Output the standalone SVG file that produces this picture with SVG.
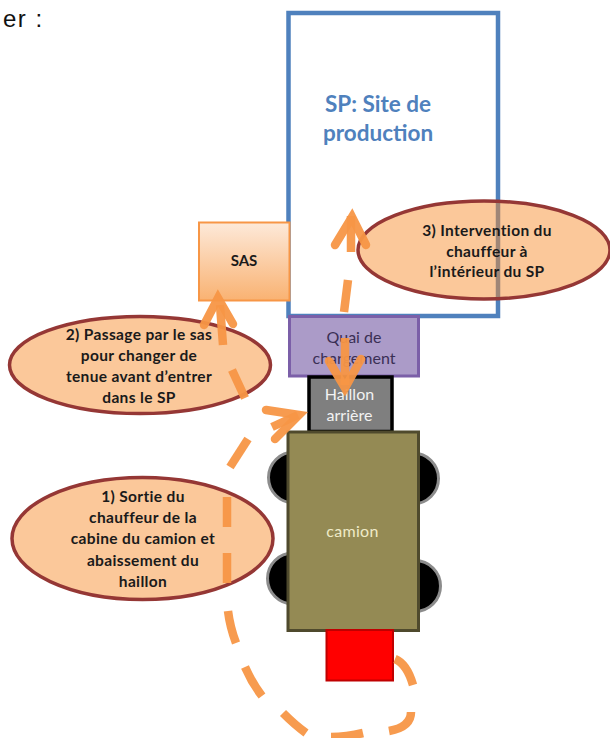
<svg xmlns="http://www.w3.org/2000/svg" width="610" height="738" viewBox="0 0 610 738">
<style>
text{font-family:Lato,"Liberation Sans",sans-serif;text-anchor:middle}
.e{fill:#f78c2c;fill-opacity:.48;stroke:#953735;stroke-width:3.5}
.et{font-size:15.5px;font-weight:700;fill:#1a1a1a;letter-spacing:.35px}
.w{fill:#000;stroke:#8c8c8c;stroke-width:3}
.c{fill:none;stroke:#f79646;stroke-width:8.500;stroke-opacity:.95}
.h{stroke-linecap:round;stroke-linejoin:miter}
.l{font-size:16px}
.sp{font-size:22.500px;font-weight:700;fill:#4f81bd}
</style>
<defs>
<linearGradient id="g" x1="0" y1="0" x2="0" y2="1"><stop offset="0" stop-color="#fde9d9"/><stop offset="1" stop-color="#f9b272"/></linearGradient>
</defs>
<rect width="610" height="738" fill="#fff"/>
<text x="3" y="27" style="font-family:'Liberation Sans',sans-serif;font-size:24px;text-anchor:start;letter-spacing:1.500px" fill="#111">er :</text>
<g id="sp"><rect x="288.500" y="13" width="209.500" height="303" fill="#fff" stroke="#4f81bd" stroke-width="4.500"/>
<text class="sp" x="378" y="112">SP: Site de</text><text class="sp" x="378" y="141">production</text></g>
<g id="sas"><rect x="199" y="222.500" width="90.500" height="78" fill="url(#g)" stroke="#f79646" stroke-width="2"/><text x="244" y="266" font-size="15" font-weight="700" fill="#1a1a1a">SAS</text></g>
<g id="roues"><circle class="w" cx="294" cy="477.500" r="25.500"/><circle class="w" cx="293" cy="578.500" r="25.500"/><circle class="w" cx="413" cy="478.500" r="25.500"/><circle class="w" cx="415" cy="586" r="25.500"/></g>
<g id="quai"><rect x="289.500" y="316.500" width="129" height="59.500" fill="#ab9bc8" stroke="#7b5fa8" stroke-width="3"/><text class="l" x="354" y="343" fill="#3a2f55">Quai de</text><text class="l" x="354" y="364" fill="#3a2f55">chargement</text></g>
<g id="haillon"><rect x="309" y="377" width="83" height="54.500" fill="#7f7f7f" stroke="#000" stroke-width="3.500"/><text class="l" x="349.500" y="400" fill="#f2f2f2">Haillon</text><text class="l" x="349.500" y="421" fill="#f2f2f2">arrière</text></g>
<g id="camion"><rect x="288" y="432" width="130.500" height="198.500" fill="#948a54" stroke="#4f4a2d" stroke-width="3"/><text class="l" x="352.500" y="537" fill="#efebc8" letter-spacing=".3">camion</text></g>
<g id="cabine"><rect x="326.500" y="630" width="66.500" height="50.500" fill="#f00" stroke="#c00000" stroke-width="2"/></g>
<g id="etape2"><ellipse class="e" cx="140" cy="365" rx="130.500" ry="48.500"/><text class="et" x="139" y="340">2) Passage par le sas</text><text class="et" x="139" y="361">pour changer de</text><text class="et" x="139" y="382">tenue avant d’entrer</text><text class="et" x="139" y="403">dans le SP</text></g>
<g id="etape1"><ellipse class="e" cx="142.500" cy="538.500" rx="130.500" ry="61"/><text class="et" x="143" y="502">1) Sortie du</text><text class="et" x="143" y="523">chauffeur de la</text><text class="et" x="143" y="544">cabine du camion et</text><text class="et" x="143" y="566">abaissement du</text><text class="et" x="143" y="587">haillon</text></g>
<g id="etape3"><ellipse class="e" cx="484" cy="250" rx="126" ry="49"/><text class="et" x="487" y="236">3) Intervention du</text><text class="et" x="487" y="257">chauffeur à</text><text class="et" x="487" y="277">l’intérieur du SP</text></g>
<g id="connecteurs" class="c">
<path d="M395 659Q407 664 413 685"/>
<path d="M411 712Q411 727 389 731"/>
<path d="M363 733Q346 737 331 737"/>
<path d="M306 733Q295 725 283 713"/>
<path d="M262 696Q252 683 245 667"/>
<path d="M236 643Q230 627 228 611"/>
<path d="M227 583V553M227 527V497"/>
<path d="M230 467L248 439"/>
<path d="M272 427L298 415"/><path class="h" d="M266 410L299 415L275 439"/>
<path d="M245 398L232 370M223 345L220 305"/>
<path class="h" d="M204 325L218 298L233 324"/>
<path d="M345 338V385"/><path class="h" d="M329 361L345 388L361 359"/>
<path d="M348 280L344 312M351 252V216"/>
<path class="h" d="M335 245L352 217L366 245"/>
</g>
</svg>
